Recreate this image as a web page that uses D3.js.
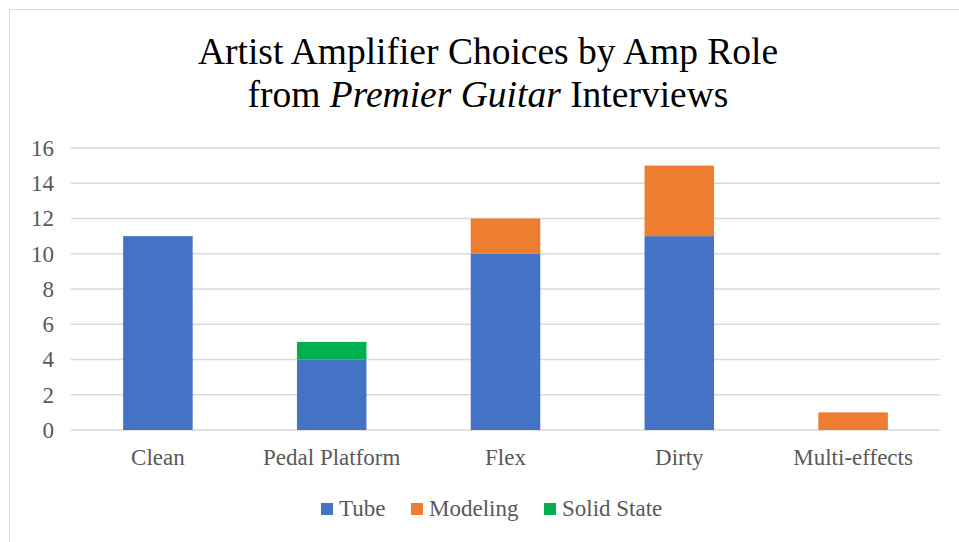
<!DOCTYPE html>
<html>
<head>
<meta charset="utf-8">
<script src="https://cdn.jsdelivr.net/npm/d3@7"></script>
<style>
  body { margin: 0; background: #fff; }
  svg { display: block; }
  svg text { font-family: "Liberation Serif", "Times New Roman", serif; }
</style>
</head>
<body>
<svg></svg>
<script>
'use strict'

const WIDTH = 959;
const HEIGHT = 542;

const categories = ['Clean', 'Pedal Platform', 'Flex', 'Dirty', 'Multi-effects'];
const seriesNames = ['Tube', 'Modeling', 'Solid State'];
const tube = [11, 4, 10, 11, 0];
const modeling = [0, 0, 2, 4, 1];
const solidState = [0, 1, 0, 0, 0];
const yTicks = [0, 2, 4, 6, 8, 10, 12, 14, 16];
const colors = ['#4472c4', '#ed7d31', '#00b050'];

const margin = { left: 71, right: 19, top: 148, bottom: 112 };
const LABEL_SIZE = 23;

const svg = d3.select('svg')
  .attr('width', WIDTH)
  .attr('height', HEIGHT);

// chart frame
svg.append('rect')
  .attr('x', 9.5).attr('y', 9.5)
  .attr('width', 1000).attr('height', 1000)
  .attr('fill', 'none')
  .attr('stroke', '#d9d9d9')
  .attr('stroke-width', 1);

// title
const title = svg.append('text')
  .attr('text-anchor', 'middle')
  .style('font-size', '37.5px')
  .attr('fill', '#000');
title.append('tspan').attr('x', 488).attr('y', 64).text('Artist Amplifier Choices by Amp Role');
const line2 = title.append('tspan').attr('x', 488).attr('y', 107);
line2.append('tspan').text('from ');
line2.append('tspan').style('font-style', 'italic').text('Premier Guitar');
line2.append('tspan').text(' Interviews');

const rows = categories.map((c, i) => ({
  category: c, Tube: tube[i], Modeling: modeling[i], 'Solid State': solidState[i]
}));
const stacked = d3.stack().keys(seriesNames)(rows);

const xScale = d3.scaleBand()
  .domain(categories)
  .range([margin.left, WIDTH - margin.right]);

const yScale = d3.scaleLinear()
  .domain([0, 16])
  .range([HEIGHT - margin.bottom, margin.top]);

const colorScale = d3.scaleOrdinal().domain(seriesNames).range(colors);

// gridlines
svg.append('g')
  .selectAll('line')
  .data(yTicks)
  .enter().append('line')
  .attr('x1', margin.left)
  .attr('x2', WIDTH - margin.right)
  .attr('y1', d => yScale(d))
  .attr('y2', d => yScale(d))
  .attr('stroke', '#d9d9d9')
  .attr('stroke-width', 1.5);

// left axis labels
const leftAxis = d3.axisLeft(yScale).tickValues(yTicks).tickSize(0).tickPadding(12);
svg.append('g')
  .attr('id', 'left-axis')
  .attr('font-family', null)
  .attr('font-size', null)
  .attr('transform', 'translate(' + (margin.left - 5) + ',0)')
  .call(leftAxis)
  .call(g => g.select('.domain').remove())
  .selectAll('text')
  .style('font-family', '"Liberation Serif", "Times New Roman", serif')
  .style('font-size', LABEL_SIZE + 'px')
  .attr('fill', '#595959');

// bars
const barW = xScale.bandwidth() * 0.4;
svg.append('g')
  .selectAll('g')
  .data(stacked)
  .enter().append('g')
  .attr('fill', d => colorScale(d.key))
  .selectAll('rect')
  .data(d => d)
  .enter().append('rect')
  .filter(d => d[1] - d[0] > 0)
  .attr('x', d => xScale(d.data.category) + (xScale.bandwidth() - barW) / 2)
  .attr('width', barW)
  .attr('y', d => yScale(d[1]))
  .attr('height', d => yScale(d[0]) - yScale(d[1]));

// bottom axis labels
const bottomAxis = d3.axisBottom(xScale).tickSize(0).tickPadding(19);
svg.append('g')
  .attr('id', 'bottom-axis')
  .attr('transform', 'translate(0,' + (HEIGHT - margin.bottom) + ')')
  .call(bottomAxis)
  .call(g => g.select('.domain').remove())
  .selectAll('text')
  .style('font-family', '"Liberation Serif", "Times New Roman", serif')
  .style('font-size', LABEL_SIZE + 'px')
  .attr('fill', '#595959');

// legend
const legendX = [321, 411, 544];
const legend = svg.append('g')
  .selectAll('g')
  .data(seriesNames)
  .enter().append('g')
  .attr('transform', (d, i) => 'translate(' + legendX[i] + ',503)');
legend.append('rect')
  .attr('width', 12).attr('height', 12)
  .attr('fill', d => colorScale(d));
legend.append('text')
  .attr('x', 18).attr('y', 13)
  .style('font-size', LABEL_SIZE + 'px')
  .attr('fill', '#595959')
  .text(d => d);
</script>
</body>
</html>
